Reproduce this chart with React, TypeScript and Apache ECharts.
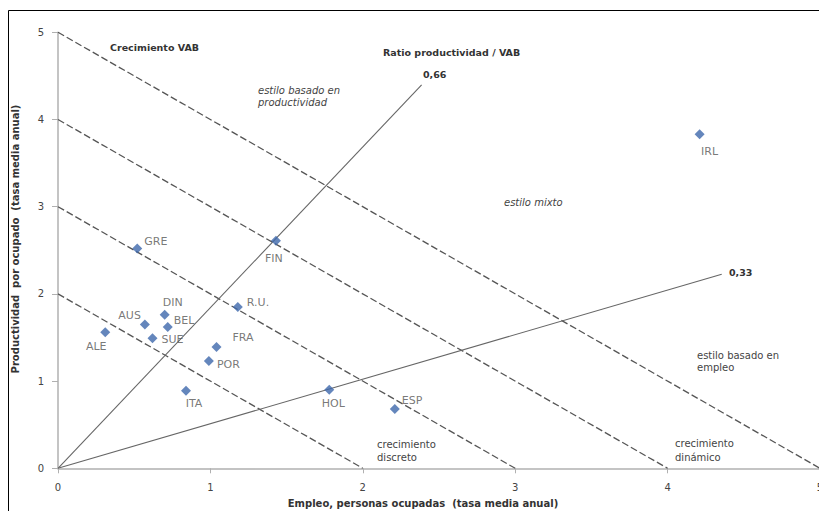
import React, { useEffect, useRef } from "react";
import * as echarts from "echarts";

// Countries: employment growth (x) and productivity growth (y)
const countries = ["IRL", "GRE", "FIN", "R.U.", "DIN", "AUS", "BEL", "ALE", "SUE", "FRA", "POR", "ITA", "HOL", "ESP"];
const empleo = [4.21, 0.52, 1.43, 1.18, 0.7, 0.57, 0.72, 0.31, 0.62, 1.04, 0.99, 0.84, 1.78, 2.21];
const productividad = [3.83, 2.52, 2.61, 1.85, 1.76, 1.65, 1.62, 1.56, 1.49, 1.39, 1.23, 0.89, 0.9, 0.68];

// Iso-VAB growth lines (x + y = c)
const vabLevels = [2, 3, 4, 5];
// Ratio productividad / VAB lines, drawn from origin to end points
const ratioLines = [
  { label: "0,66", end: [2.386, 4.396] },
  { label: "0,33", end: [4.355, 2.225] },
];

const axisTicks = [0, 1, 2, 3, 4, 5];

// label placement per country (styling only)
const labelPlacement: Record<string, { position: string; offset: number[] }> = {
  IRL: { position: "bottom", offset: [10, 4] },
  GRE: { position: "right", offset: [-1, -7] },
  FIN: { position: "bottom", offset: [-2, 4] },
  "R.U.": { position: "right", offset: [1, -4] },
  DIN: { position: "top", offset: [8, 1] },
  AUS: { position: "left", offset: [4, -9] },
  BEL: { position: "right", offset: [-2, -7] },
  ALE: { position: "bottom", offset: [-9, 1] },
  SUE: { position: "right", offset: [1, 1] },
  FRA: { position: "right", offset: [8, -10] },
  POR: { position: "right", offset: [0, 3] },
  ITA: { position: "bottom", offset: [8, -1] },
  HOL: { position: "bottom", offset: [4, 0] },
  ESP: { position: "right", offset: [-1, -9] },
};

const FONT = "DejaVu Sans";

export default function App() {
  const ref = useRef<HTMLDivElement>(null);
  useEffect(() => {
    if (!ref.current) return;
    const chart = echarts.init(ref.current, undefined, { renderer: "svg" });

    const scatterData = countries.map((n, i) => ({
      value: [empleo[i], productividad[i]],
      name: n,
      label: {
        position: labelPlacement[n].position,
        offset: labelPlacement[n].offset,
      },
    }));

    const dashedSeries = vabLevels.map((c) => ({
      type: "line",
      data: [
        [0, c],
        [c, 0],
      ],
      symbol: "none",
      silent: true,
      lineStyle: { color: "#555", width: 1.3, type: [7, 3] },
      z: 2,
    }));

    const ratioSeries = ratioLines.map((r) => ({
      type: "line",
      data: [[0, 0], r.end],
      symbol: "none",
      silent: true,
      lineStyle: { color: "#666", width: 1.1, type: "solid" },
      z: 2,
    }));

    const txt = (text: string, x: number, y: number, font: string, extra: any = {}) => ({
      type: "text",
      x,
      y,
      silent: true,
      z: 10,
      style: {
        text,
        font,
        fill: "#333",
        textAlign: "left",
        verticalAlign: "middle",
        ...extra,
      },
    });

    const boldF = `bold 9.5px "${FONT}"`;
    const italF = `italic 10px "${FONT}"`;
    const normF = `10px "${FONT}"`;

    chart.setOption({
      animation: false,
      grid: { left: 50, right: 7, top: 24.3, bottom: 42.7 },
      xAxis: {
        type: "value",
        min: 0,
        max: 5,
        interval: 1,
        data: axisTicks,
        splitLine: { show: false },
        axisLine: { show: true, lineStyle: { color: "#b0b0b0", width: 1.5 } },
        axisTick: { show: true, length: 5, lineStyle: { color: "#b0b0b0" } },
        axisLabel: { color: "#444", fontFamily: FONT, fontSize: 10, margin: 14 },
      },
      yAxis: {
        type: "value",
        min: 0,
        max: 5,
        interval: 1,
        splitLine: { show: false },
        axisLine: { show: true, lineStyle: { color: "#b0b0b0", width: 1.5 } },
        axisTick: { show: true, length: 6, lineStyle: { color: "#b0b0b0" } },
        axisLabel: { color: "#444", fontFamily: FONT, fontSize: 10, margin: 14 },
      },
      series: [
        ...dashedSeries,
        ...ratioSeries,
        {
          type: "scatter",
          data: scatterData,
          symbol: "diamond",
          symbolSize: 10,
          itemStyle: { color: "#3d68ab" },
          z: 5,
          label: {
            show: true,
            formatter: "{b}",
            distance: 3,
            color: "#555",
            fontFamily: FONT,
            fontSize: 11,
          },
        },
      ],
      graphic: [
        {
          type: "rect",
          silent: true,
          shape: { x: 0.5, y: 2.5, width: 822, height: 504 },
          style: { fill: "none", stroke: "#000", lineWidth: 1 },
        },
        txt("Crecimiento VAB", 102, 39, boldF),
        txt("Ratio productividad / VAB", 375, 44, boldF),
        txt(ratioLines[0].label, 415, 66, boldF),
        txt(ratioLines[1].label, 721, 264, boldF),
        txt("estilo basado en", 250, 82, italF, { fill: "#444" }),
        txt("productividad", 250, 94, italF, { fill: "#444" }),
        txt("estilo mixto", 496, 194, italF, { fill: "#444" }),
        txt("estilo basado en", 689, 347, normF, { fill: "#444" }),
        txt("empleo", 689, 359, normF, { fill: "#444" }),
        txt("crecimiento", 369, 436, normF, { fill: "#444" }),
        txt("discreto", 369, 449, normF, { fill: "#444" }),
        txt("crecimiento", 667, 435, normF, { fill: "#444" }),
        txt("dinámico", 667, 449, normF, { fill: "#444" }),
        txt("Empleo, personas ocupadas  (tasa media anual)", 415, 495, `bold 10px "${FONT}"`, {
          textAlign: "center",
        }),
        {
          type: "text",
          x: 7,
          y: 231,
          rotation: Math.PI / 2,
          silent: true,
          z: 10,
          style: {
            text: "Productividad  por ocupado  (tasa media anual)",
            font: `bold 10px "${FONT}"`,
            fill: "#333",
            textAlign: "center",
            verticalAlign: "middle",
          },
        },
      ],
    });
    return () => chart.dispose();
  }, []);

  return <div ref={ref} style={{ width: 819, height: 503 }} />;
}
